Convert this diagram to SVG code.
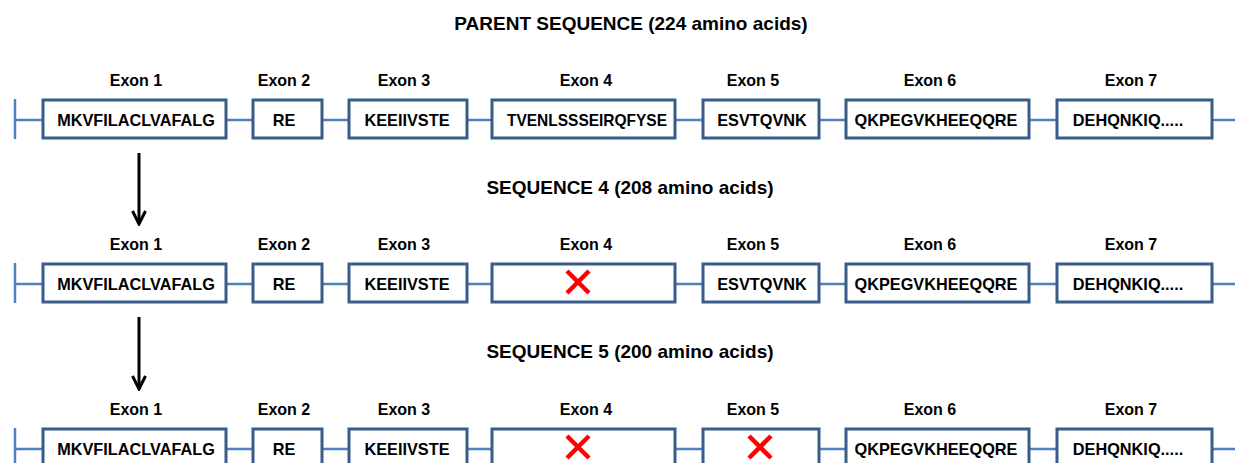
<svg xmlns="http://www.w3.org/2000/svg" width="1235" height="463" viewBox="0 0 1235 463">
<defs>
<style>
.title{font-family:"Liberation Sans",Arial,sans-serif;font-weight:bold;font-size:19px;fill:#000;text-anchor:middle}
.lbl{font-family:"Liberation Sans",Arial,sans-serif;font-weight:bold;font-size:16px;fill:#000;text-anchor:middle}
.seq{font-family:"Liberation Sans",Arial,sans-serif;font-weight:bold;font-size:16.3px;fill:#000;text-anchor:middle}
.box{fill:#fff;stroke:#385D8A;stroke-width:3}
.bb{stroke:#4F81BD;stroke-width:2.5;fill:none}
.x{stroke:#FF0000;stroke-width:4.5;stroke-linecap:butt}
.arr{stroke:#000;stroke-width:3;fill:none}
</style>
<marker id="ah" viewBox="0 0 16 16" refX="14" refY="8" markerWidth="16" markerHeight="16" markerUnits="userSpaceOnUse" orient="auto">
<path d="M1,1.5 L14,8 L1,14.5" fill="none" stroke="#000" stroke-width="3"/>
</marker>
<g id="exonrow">
<line class="bb" x1="15" y1="0" x2="15" y2="40"/>
<line class="bb" x1="15" y1="21" x2="1235" y2="21"/>
</g>
</defs>

<text class="title" x="631" y="30">PARENT SEQUENCE (224 amino acids)</text>
<text class="title" x="630" y="194">SEQUENCE 4 (208 amino acids)</text>
<text class="title" x="630" y="358">SEQUENCE 5 (200 amino acids)</text>

<g id="connectors">
<use href="#exonrow" y="99"/>
<use href="#exonrow" y="263"/>
<use href="#exonrow" y="428"/>
<line class="arr" x1="139" y1="153" x2="139" y2="224" marker-end="url(#ah)"/>
<line class="arr" x1="139" y1="317" x2="139" y2="389" marker-end="url(#ah)"/>
</g>

<!-- Row 1 -->
<g id="r1e1"><text class="lbl" x="136" y="86">Exon 1</text><rect class="box" x="43" y="100" width="183" height="38"/><text class="seq" x="136" y="126">MKVFILACLVAFALG</text></g>
<g id="r1e2"><text class="lbl" x="284" y="86">Exon 2</text><rect class="box" x="253" y="100" width="69" height="38"/><text class="seq" x="284" y="126">RE</text></g>
<g id="r1e3"><text class="lbl" x="404" y="86">Exon 3</text><rect class="box" x="349" y="100" width="118" height="38"/><text class="seq" x="407" y="126">KEEIIVSTE</text></g>
<g id="r1e4"><text class="lbl" x="586" y="86">Exon 4</text><rect class="box" x="492" y="100" width="183" height="38"/><text class="seq" x="587" y="126" textLength="160" lengthAdjust="spacingAndGlyphs">TVENLSSSEIRQFYSE</text></g>
<g id="r1e5"><text class="lbl" x="753" y="86">Exon 5</text><rect class="box" x="703" y="100" width="116" height="38"/><text class="seq" x="762" y="126">ESVTQVNK</text></g>
<g id="r1e6"><text class="lbl" x="930" y="86">Exon 6</text><rect class="box" x="846" y="100" width="183" height="38"/><text class="seq" x="936" y="126">QKPEGVKHEEQQRE</text></g>
<g id="r1e7"><text class="lbl" x="1131" y="86">Exon 7</text><rect class="box" x="1057" y="100" width="155" height="38"/><text class="seq" x="1128" y="126">DEHQNKIQ.....</text></g>

<!-- Row 2 -->
<g id="r2e1"><text class="lbl" x="136" y="250">Exon 1</text><rect class="box" x="43" y="264" width="183" height="38"/><text class="seq" x="136" y="290">MKVFILACLVAFALG</text></g>
<g id="r2e2"><text class="lbl" x="284" y="250">Exon 2</text><rect class="box" x="253" y="264" width="69" height="38"/><text class="seq" x="284" y="290">RE</text></g>
<g id="r2e3"><text class="lbl" x="404" y="250">Exon 3</text><rect class="box" x="349" y="264" width="118" height="38"/><text class="seq" x="407" y="290">KEEIIVSTE</text></g>
<g id="r2e4"><text class="lbl" x="586" y="250">Exon 4</text><rect class="box" x="492" y="264" width="183" height="38"/><path class="x" d="M567,271 L589,293 M589,271 L567,293"/></g>
<g id="r2e5"><text class="lbl" x="753" y="250">Exon 5</text><rect class="box" x="703" y="264" width="116" height="38"/><text class="seq" x="762" y="290">ESVTQVNK</text></g>
<g id="r2e6"><text class="lbl" x="930" y="250">Exon 6</text><rect class="box" x="846" y="264" width="183" height="38"/><text class="seq" x="936" y="290">QKPEGVKHEEQQRE</text></g>
<g id="r2e7"><text class="lbl" x="1131" y="250">Exon 7</text><rect class="box" x="1057" y="264" width="155" height="38"/><text class="seq" x="1128" y="290">DEHQNKIQ.....</text></g>

<!-- Row 3 -->
<g id="r3e1"><text class="lbl" x="136" y="415">Exon 1</text><rect class="box" x="43" y="429" width="183" height="38"/><text class="seq" x="136" y="455">MKVFILACLVAFALG</text></g>
<g id="r3e2"><text class="lbl" x="284" y="415">Exon 2</text><rect class="box" x="253" y="429" width="69" height="38"/><text class="seq" x="284" y="455">RE</text></g>
<g id="r3e3"><text class="lbl" x="404" y="415">Exon 3</text><rect class="box" x="349" y="429" width="118" height="38"/><text class="seq" x="407" y="455">KEEIIVSTE</text></g>
<g id="r3e4"><text class="lbl" x="586" y="415">Exon 4</text><rect class="box" x="492" y="429" width="183" height="38"/><path class="x" d="M567,436 L589,458 M589,436 L567,458"/></g>
<g id="r3e5"><text class="lbl" x="753" y="415">Exon 5</text><rect class="box" x="703" y="429" width="116" height="38"/><path class="x" d="M749,436 L771,458 M771,436 L749,458"/></g>
<g id="r3e6"><text class="lbl" x="930" y="415">Exon 6</text><rect class="box" x="846" y="429" width="183" height="38"/><text class="seq" x="936" y="455">QKPEGVKHEEQQRE</text></g>
<g id="r3e7"><text class="lbl" x="1131" y="415">Exon 7</text><rect class="box" x="1057" y="429" width="155" height="38"/><text class="seq" x="1128" y="455">DEHQNKIQ.....</text></g>
</svg>
